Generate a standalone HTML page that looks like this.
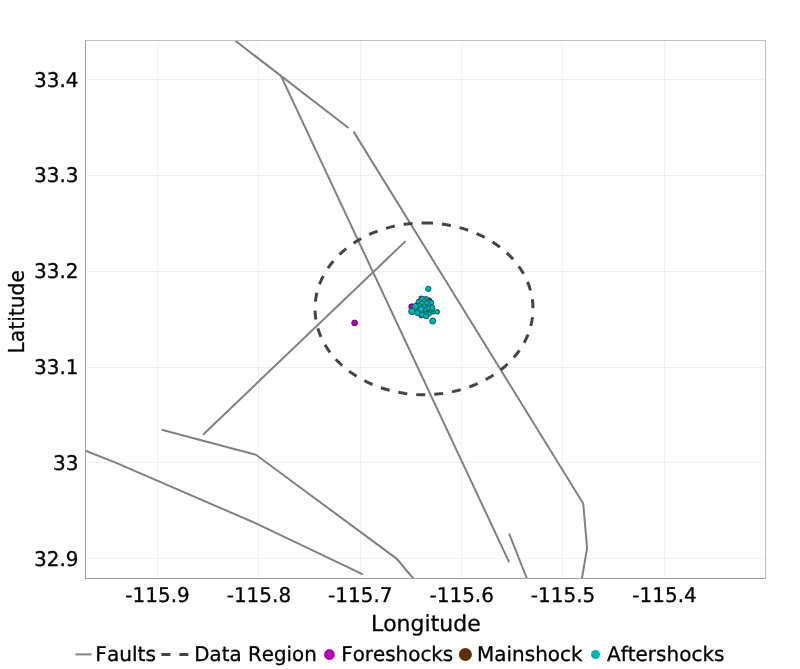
<!DOCTYPE html>
<html lang="en"><head><meta charset="utf-8"><title>Fault map</title>
<style>html,body{margin:0;padding:0;background:#fff;}svg{display:block;will-change:transform;}text{font-family:'DejaVu Sans', 'Liberation Sans', sans-serif;fill:#000;stroke:#000;stroke-width:0.3px;font-kerning:none;}</style>
</head><body>
<svg width="800" height="669" viewBox="0 0 800 669">
<rect x="0" y="0" width="800" height="669" fill="#ffffff"/>
<defs><clipPath id="plotclip"><rect x="85.5" y="40.5" width="680.0" height="538.0"/></clipPath></defs>
<g stroke="#000000" stroke-opacity="0.06" stroke-width="1" shape-rendering="crispEdges">
<line x1="157.5" y1="40.5" x2="157.5" y2="578.5"/>
<line x1="258.5" y1="40.5" x2="258.5" y2="578.5"/>
<line x1="360.5" y1="40.5" x2="360.5" y2="578.5"/>
<line x1="461.5" y1="40.5" x2="461.5" y2="578.5"/>
<line x1="562.5" y1="40.5" x2="562.5" y2="578.5"/>
<line x1="664.5" y1="40.5" x2="664.5" y2="578.5"/>
<line x1="85.5" y1="79.5" x2="765.5" y2="79.5"/>
<line x1="85.5" y1="175.5" x2="765.5" y2="175.5"/>
<line x1="85.5" y1="271.5" x2="765.5" y2="271.5"/>
<line x1="85.5" y1="367.5" x2="765.5" y2="367.5"/>
<line x1="85.5" y1="462.5" x2="765.5" y2="462.5"/>
<line x1="85.5" y1="558.5" x2="765.5" y2="558.5"/>
</g>
<g clip-path="url(#plotclip)" fill="none" stroke="#808080" stroke-width="2">
<polyline points="235.0,40.5 348.6,128.0"/>
<polyline points="353.6,131.6 583.2,503.5 587.1,548.2 581.9,578.5"/>
<polyline points="281.1,76.2 509.1,562.1"/>
<polyline points="405.6,241.1 203.0,434.7"/>
<polyline points="161.7,429.8 256.0,454.8 396.5,558.6 413.3,578.5"/>
<polyline points="85.5,450.7 115.6,462.6 256.0,523.4 362.9,574.3"/>
<polyline points="509.1,533.6 526.9,578.5"/>
</g>
<g clip-path="url(#plotclip)"><path d="M424.00,222.90 L427.80,222.95 L431.60,223.11 L435.39,223.37 L439.17,223.74 L442.93,224.21 L446.66,224.78 L450.37,225.45 L454.04,226.23 L457.68,227.10 L461.28,228.08 L464.83,229.15 L468.33,230.33 L471.78,231.59 L475.17,232.95 L478.50,234.41 L481.76,235.95 L484.95,237.59 L488.07,239.31 L491.11,241.11 L494.06,243.00 L496.94,244.96 L499.72,247.01 L502.41,249.13 L505.00,251.32 L507.50,253.58 L509.89,255.91 L512.18,258.31 L514.37,260.77 L516.44,263.28 L518.40,265.85 L520.24,268.47 L521.97,271.14 L523.58,273.86 L525.06,276.62 L526.43,279.42 L527.67,282.26 L528.78,285.12 L529.76,288.02 L530.62,290.94 L531.34,293.88 L531.94,296.85 L532.40,299.82 L532.73,302.81 L532.93,305.80 L533.00,308.80 L532.93,311.80 L532.73,314.79 L532.40,317.78 L531.94,320.75 L531.34,323.72 L530.62,326.66 L529.76,329.58 L528.78,332.48 L527.67,335.34 L526.43,338.18 L525.06,340.98 L523.58,343.74 L521.97,346.46 L520.24,349.13 L518.40,351.75 L516.44,354.32 L514.37,356.83 L512.18,359.29 L509.89,361.69 L507.50,364.02 L505.00,366.28 L502.41,368.47 L499.72,370.59 L496.94,372.64 L494.06,374.60 L491.11,376.49 L488.07,378.29 L484.95,380.01 L481.76,381.65 L478.50,383.19 L475.17,384.65 L471.78,386.01 L468.33,387.27 L464.83,388.45 L461.28,389.52 L457.68,390.50 L454.04,391.37 L450.37,392.15 L446.66,392.82 L442.93,393.39 L439.17,393.86 L435.39,394.23 L431.60,394.49 L427.80,394.65 L424.00,394.70 L420.20,394.65 L416.40,394.49 L412.61,394.23 L408.83,393.86 L405.07,393.39 L401.34,392.82 L397.63,392.15 L393.96,391.37 L390.32,390.50 L386.72,389.52 L383.17,388.45 L379.67,387.27 L376.22,386.01 L372.83,384.65 L369.50,383.19 L366.24,381.65 L363.05,380.01 L359.93,378.29 L356.89,376.49 L353.94,374.60 L351.06,372.64 L348.28,370.59 L345.59,368.47 L343.00,366.28 L340.50,364.02 L338.11,361.69 L335.82,359.29 L333.63,356.83 L331.56,354.32 L329.60,351.75 L327.76,349.13 L326.03,346.46 L324.42,343.74 L322.94,340.98 L321.57,338.18 L320.33,335.34 L319.22,332.48 L318.24,329.58 L317.38,326.66 L316.66,323.72 L316.06,320.75 L315.60,317.78 L315.27,314.79 L315.07,311.80 L315.00,308.80 L315.07,305.80 L315.27,302.81 L315.60,299.82 L316.06,296.85 L316.66,293.88 L317.38,290.94 L318.24,288.02 L319.22,285.12 L320.33,282.26 L321.57,279.42 L322.94,276.62 L324.42,273.86 L326.03,271.14 L327.76,268.47 L329.60,265.85 L331.56,263.28 L333.63,260.77 L335.82,258.31 L338.11,255.91 L340.50,253.58 L343.00,251.32 L345.59,249.13 L348.28,247.01 L351.06,244.96 L353.94,243.00 L356.89,241.11 L359.93,239.31 L363.05,237.59 L366.24,235.95 L369.50,234.41 L372.83,232.95 L376.22,231.59 L379.67,230.33 L383.17,229.15 L386.72,228.08 L390.32,227.10 L393.96,226.23 L397.63,225.45 L401.34,224.78 L405.07,224.21 L408.83,223.74 L412.61,223.37 L416.40,223.11 L420.20,222.95 L424.00,222.90" fill="none" stroke="#444444" stroke-width="3" stroke-dasharray="9,9"/></g>
<g clip-path="url(#plotclip)" fill="#b800b8" stroke="#5c005c" stroke-width="1">
<circle cx="354.6" cy="322.9" r="2.85"/>
<circle cx="411.7" cy="306.7" r="2.90"/>
<circle cx="429.4" cy="300.5" r="2.50"/>
<circle cx="421.3" cy="315.3" r="2.50"/>
<circle cx="421.4" cy="298.6" r="2.60"/>
<circle cx="418.2" cy="303.2" r="2.40"/>
</g>
<g clip-path="url(#plotclip)" fill="#5c2e00" stroke="#2e1700" stroke-width="1"><circle cx="422.0" cy="308.5" r="3"/></g>
<g clip-path="url(#plotclip)" fill="#00b3b3" stroke="#005e5e" stroke-width="1">
<circle cx="428.30" cy="288.90" r="2.65"/>
<circle cx="432.75" cy="321.00" r="3.00"/>
<circle cx="437.30" cy="311.80" r="2.30"/>
<circle cx="418.80" cy="301.70" r="2.60"/>
<circle cx="426.00" cy="299.40" r="2.90"/>
<circle cx="422.40" cy="299.40" r="3.00"/>
<circle cx="424.30" cy="301.50" r="2.40"/>
<circle cx="428.80" cy="301.50" r="2.20"/>
<circle cx="426.70" cy="303.70" r="2.90"/>
<circle cx="421.80" cy="304.00" r="3.00"/>
<circle cx="431.30" cy="302.70" r="2.50"/>
<circle cx="419.50" cy="306.00" r="2.40"/>
<circle cx="424.30" cy="306.30" r="2.40"/>
<circle cx="429.50" cy="305.80" r="2.20"/>
<circle cx="432.20" cy="307.90" r="2.75"/>
<circle cx="433.40" cy="312.00" r="2.00"/>
<circle cx="431.60" cy="312.40" r="1.90"/>
<circle cx="429.30" cy="311.30" r="2.20"/>
<circle cx="427.70" cy="308.30" r="2.60"/>
<circle cx="424.50" cy="312.50" r="2.60"/>
<circle cx="429.00" cy="314.00" r="2.30"/>
<circle cx="418.50" cy="309.50" r="2.60"/>
<circle cx="425.00" cy="309.80" r="2.20"/>
<circle cx="414.80" cy="309.80" r="2.40"/>
<circle cx="419.80" cy="312.00" r="2.20"/>
<circle cx="423.80" cy="315.60" r="2.00"/>
<circle cx="411.90" cy="311.40" r="3.25"/>
<circle cx="417.50" cy="312.90" r="2.80"/>
<circle cx="421.80" cy="314.60" r="2.60"/>
<circle cx="415.30" cy="306.50" r="3.00"/>
<circle cx="421.20" cy="309.10" r="3.00"/>
<circle cx="426.20" cy="316.20" r="2.60"/>
</g>
<g fill="none" stroke-width="1" shape-rendering="crispEdges">
<path d="M85.0,40.5 H766.0 M765.5,40.0 V579.0" stroke="#bfbfbf"/>
<path d="M85.5,40.0 V579.0 M85.0,578.5 H766.0" stroke="#9f9f9f"/>
</g>
<text transform="translate(157.50,601.70) skewX(0.1) scale(0.9901,1)" font-size="20.2px" text-anchor="middle">-115.9</text>
<text transform="translate(258.90,601.70) skewX(0.1) scale(0.9901,1)" font-size="20.2px" text-anchor="middle">-115.8</text>
<text transform="translate(360.30,601.70) skewX(0.1) scale(0.9901,1)" font-size="20.2px" text-anchor="middle">-115.7</text>
<text transform="translate(461.70,601.70) skewX(0.1) scale(0.9901,1)" font-size="20.2px" text-anchor="middle">-115.6</text>
<text transform="translate(563.10,601.70) skewX(0.1) scale(0.9901,1)" font-size="20.2px" text-anchor="middle">-115.5</text>
<text transform="translate(664.50,601.70) skewX(0.1) scale(0.9901,1)" font-size="20.2px" text-anchor="middle">-115.4</text>
<text transform="translate(78.50,86.60) skewX(0.1) scale(0.9901,1)" font-size="20.2px" text-anchor="end">33.4</text>
<text transform="translate(78.50,182.40) skewX(0.1) scale(0.9901,1)" font-size="20.2px" text-anchor="end">33.3</text>
<text transform="translate(78.50,278.20) skewX(0.1) scale(0.9901,1)" font-size="20.2px" text-anchor="end">33.2</text>
<text transform="translate(78.50,374.00) skewX(0.1) scale(0.9901,1)" font-size="20.2px" text-anchor="end">33.1</text>
<text transform="translate(78.50,469.80) skewX(0.1) scale(0.9901,1)" font-size="20.2px" text-anchor="end">33</text>
<text transform="translate(78.50,565.60) skewX(0.1) scale(0.9901,1)" font-size="20.2px" text-anchor="end">32.9</text>
<text transform="translate(425.80,630.85) skewX(0.1) scale(1.0000,1)" font-size="22px" text-anchor="middle">Longitude</text>
<text transform="translate(24,311.8) rotate(-90) scale(0.92,1)" font-size="22px" text-anchor="middle">Latitude</text>
<line x1="75.4" y1="654.4" x2="91.5" y2="654.4" stroke="#808080" stroke-width="2"/>
<text transform="translate(95.30,660.70) skewX(0.1) scale(0.9980,1)" font-size="20.2px">Faults</text>
<line x1="161.4" y1="654.5" x2="189.5" y2="654.5" stroke="#444444" stroke-width="3" stroke-dasharray="9,9"/>
<text transform="translate(194.30,660.70) skewX(0.1) scale(0.9832,1)" font-size="20.2px">Data Region</text>
<circle cx="329.4" cy="654.5" r="5.4" fill="#b300b3"/>
<text transform="translate(341.20,660.70) skewX(0.1) scale(0.9851,1)" font-size="20.2px">Foreshocks</text>
<circle cx="465.4" cy="654.5" r="6.5" fill="#5c2e00"/>
<text transform="translate(477.00,660.70) skewX(0.1) scale(0.9901,1)" font-size="20.2px">Mainshock</text>
<circle cx="595.5" cy="654.5" r="4.5" fill="#00b2b2"/>
<text transform="translate(607.00,660.70) skewX(0.1) scale(0.9901,1)" font-size="20.2px">Aftershocks</text>
</svg>
</body></html>
